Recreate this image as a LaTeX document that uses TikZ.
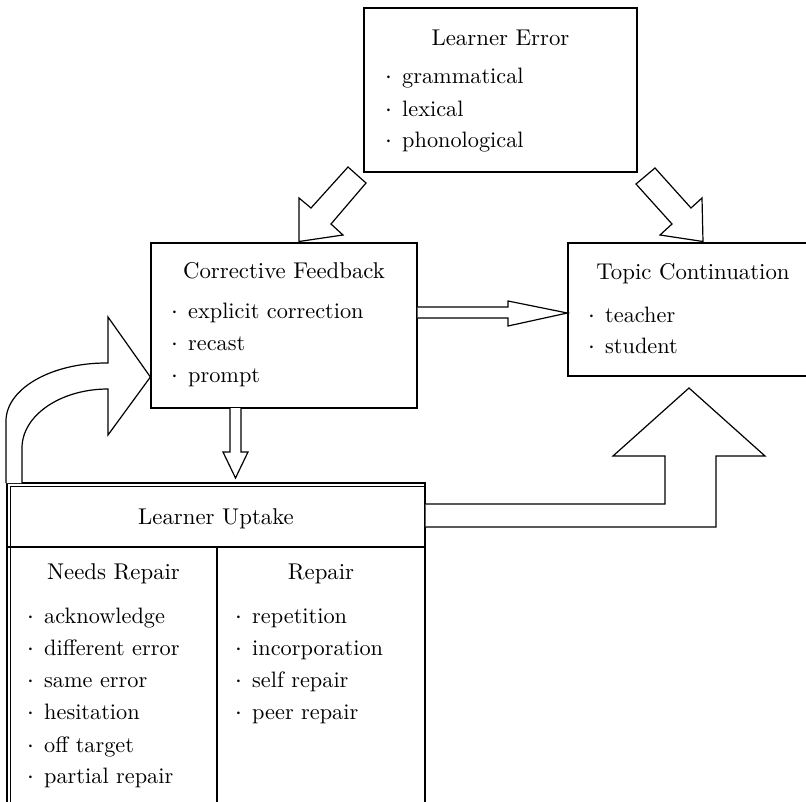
\documentclass[tikz,border=0pt]{standalone}
\usepackage{fontspec}
\setmainfont{lmroman10-regular.otf}
\usetikzlibrary{calc}
\newcommand{\itembullet}{\llap{\raisebox{3.6pt}{\scalebox{0.42}{\textbullet}}\kern10pt}}
\tikzset{
  frame/.style={draw, line width=1.2pt, inner sep=0pt, fill=white},
  title/.style={anchor=base, inner sep=0pt, font=\fontsize{22.8}{26}\selectfont},
  item/.style={anchor=base west, inner sep=0pt, font=\fontsize{22.3}{26}\selectfont},
  blockarrow/.style={draw, line width=1.2pt, fill=white, line join=miter},
  rule/.style={line width=1.2pt},
  thinrule/.style={line width=0.9pt}
}
\begin{document}
\begin{tikzpicture}[x=1pt,y=-1pt]
\useasboundingbox (0,0) rectangle (806,801);
\clip (0,0) rectangle (806,801);

% boxes
\node[frame, minimum width=273pt, minimum height=164pt] (le) at (500.5,90) {};
\node[frame, minimum width=266pt, minimum height=165pt] (cf) at (284,325.5) {};
\node[frame, minimum width=262pt, minimum height=133pt] (tc) at (699,309.5) {};
\node[frame, minimum width=418pt, minimum height=347pt] (lu) at (216,656.5) {};
\draw[rule] (lu.west |- 0,547) -- (lu.east |- 0,547);
\draw[rule] (217,547) -- (lu.south -| 217,0);
\draw[thinrule] (10,830) -- (10,486) -- (lu.east |- 0,486);

% Learner Error
\node[title] (leT) at (500.5,45) {Learner Error};
\node[item] (le1) at (402,83) {\itembullet grammatical};
\node[item] (le2) at (402,116) {\itembullet lexical};
\node[item] (le3) at (402,147) {\itembullet phonological};

% Corrective Feedback
\node[title] (cfT) at (284,278) {Corrective Feedback};
\node[item] (cf1) at (188,318) {\itembullet explicit correction};
\node[item] (cf2) at (188,350) {\itembullet recast};
\node[item] (cf3) at (188,382.5) {\itembullet prompt};

% Topic Continuation
\node[title] (tcT) at (693,279) {Topic Continuation};
\node[item] (tc1) at (605,322) {\itembullet teacher};
\node[item] (tc2) at (605,353) {\itembullet student};

% Learner Uptake
\node[title] (luT) at (216,524) {Learner Uptake};
\node[title] (nrT) at (113.5,579) {Needs Repair};
\node[title] (rpT) at (321,579) {Repair};
\node[item] (nr1) at (44,623) {\itembullet acknowledge};
\node[item] (nr2) at (44,655) {\itembullet different error};
\node[item] (nr3) at (44,687) {\itembullet same error};
\node[item] (nr4) at (44,719) {\itembullet hesitation};
\node[item] (nr5) at (44,752) {\itembullet off target};
\node[item] (nr6) at (44,783) {\itembullet partial repair};
\node[item] (rp1) at (252,623) {\itembullet repetition};
\node[item] (rp2) at (252,655) {\itembullet incorporation};
\node[item] (rp3) at (252,687) {\itembullet self repair};
\node[item] (rp4) at (252,719) {\itembullet peer repair};

% block arrows
% Learner Error -> Corrective Feedback
\draw[blockarrow] (348,167) -- (366,183) -- (331,224) -- (343,235) -- (299,241.5) -- (299,198) -- (311,208) -- cycle;
% Learner Error -> Topic Continuation
\draw[blockarrow] (655,168) -- (691,208) -- (702,198) -- (703,241.5) -- (660,235) -- (672,224) -- (636,184) -- cycle;
% Corrective Feedback -> Topic Continuation
\draw[blockarrow] (cf.east |- 0,307) -- (508,307) -- (508,301) -- (tc.west |- 0,313) -- (508,326) -- (508,318) -- (cf.east |- 0,318);
% Corrective Feedback -> Learner Uptake
\draw[blockarrow] (230,408) -- (230,452) -- (223,452) -- (235.5,478) -- (248,452) -- (241,452) -- (241,408);
% Learner Uptake -> Corrective Feedback (curved)
\draw[blockarrow] (6,483) -- (6,421) arc[start angle=180, end angle=90, x radius=100pt, y radius=58pt] -- (108,363) -- (108,317) -- (cf.west |- 0,377) -- (108,435) -- (108,389) arc[start angle=90, end angle=180, x radius=86pt, y radius=59pt] -- (22,483);
% Learner Uptake -> Topic Continuation (bent up)
\draw[blockarrow] (lu.east |- 0,504) -- (665,504) -- (665,456) -- (613,456) -- (689,388) -- (765,456) -- (716,456) -- (716,527) -- (lu.east |- 0,527);
\end{tikzpicture}
\end{document}
